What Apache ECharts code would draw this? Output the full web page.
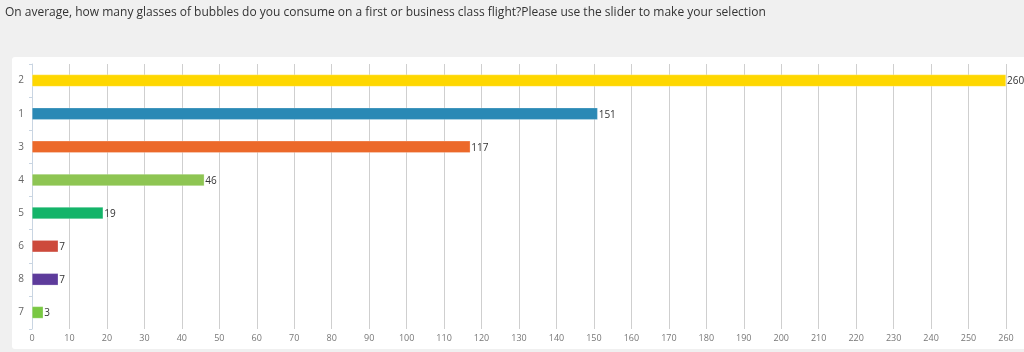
<!DOCTYPE html>
<html>
<head>
<meta charset="utf-8">
<script src="https://cdn.jsdelivr.net/npm/echarts@6/dist/echarts.min.js"></script>
<style>
  html, body { margin: 0; padding: 0; background: #f0f0f0; }
  #chart { width: 1024px; height: 352px; }
</style>
</head>
<body>
<div id="chart"></div>
<script>
var titleText = 'On average, how many glasses of bubbles do you consume on a first or business class flight?Please use the slider to make your selection';
var categories = ['2', '1', '3', '4', '5', '6', '8', '7'];
var counts = [260, 151, 117, 46, 19, 7, 7, 3];
var barColors = ['#fed700', '#2a89b5', '#ec692a', '#8ec553', '#14b469', '#cd4a3c', '#5d3b9b', '#79c843'];

var chart = echarts.init(document.getElementById('chart'));

var option = {
  backgroundColor: '#f0f0f0',
  animation: false,
  title: {
    text: titleText,
    left: 0,
    top: 2,
    textStyle: { fontFamily: 'Open Sans', fontSize: 12, fontWeight: 'normal', color: '#333' }
  },
  graphic: [{
    type: 'rect',
    z: -10,
    shape: { x: 12, y: 57, width: 1030, height: 292, r: 3 },
    style: { fill: '#ffffff' }
  }],
  grid: { left: 32, right: 18, top: 64, bottom: 23 },
  xAxis: {
    type: 'value',
    min: 0,
    max: 260,
    interval: 10,
    axisLine: { show: false },
    axisTick: { show: false },
    axisLabel: { fontFamily: 'Open Sans', fontSize: 9, color: '#777', margin: 5 },
    splitLine: { show: true, lineStyle: { color: '#cfcfcf', width: 1 } }
  },
  yAxis: {
    type: 'category',
    inverse: true,
    data: categories,
    axisLine: { show: true, lineStyle: { color: '#c9d5e2' } },
    axisTick: { show: true, length: 3, lineStyle: { color: '#c9d5e2' } },
    axisLabel: { fontFamily: 'Open Sans', fontSize: 10, color: '#666', margin: 8 }
  },
  series: [{
    type: 'bar',
    barWidth: 12,
    data: counts.map(function (v, i) {
      return { value: v, itemStyle: { color: barColors[i] } };
    }),
    itemStyle: { borderColor: 'rgba(255,255,255,0.5)', borderWidth: 0.5 },
    label: {
      show: true,
      position: 'right',
      distance: 1,
      offset: [0, 1],
      fontFamily: 'Open Sans',
      fontSize: 10,
      color: '#333'
    }
  }]
};

chart.setOption(option);
</script>
</body>
</html>
